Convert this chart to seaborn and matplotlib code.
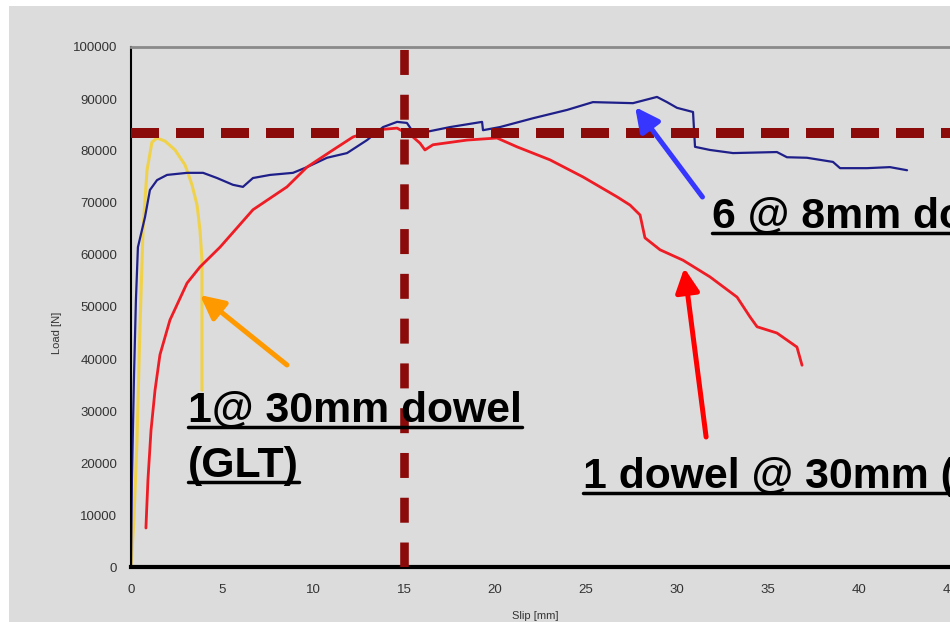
#curvas carga x deslizamento de ligacoes com cavilhas

import numpy as np
import matplotlib
matplotlib.use('Agg')
import matplotlib.pyplot as plt
import seaborn as sns
from matplotlib.patches import Rectangle
from matplotlib.lines import Line2D

# dados (slip em mm, load em N)
slip_glt = [0, 0.16, 0.33, 0.49, 0.66, 0.88, 1.15, 1.43, 1.87, 2.42, 2.97, 3.35, 3.63, 3.79, 3.90, 3.90, 3.90]
load_glt = [0, 9000, 24400, 45600, 64800, 76300, 81700, 82500, 81900, 80200, 77300, 73500, 69600, 64800,
            59000, 51300, 34000]

slip_6x8 = [0, 0.05, 0.16, 0.27, 0.38, 0.77, 1.04, 1.43, 1.98, 3.08, 3.96, 4.73, 5.60, 6.15, 6.70, 7.64,
            8.90, 9.67, 10.77, 11.87, 12.97, 13.85, 14.62, 15.16, 15.49, 16.26, 17.53, 19.29, 19.34, 20.27,
            22.09, 23.96, 25.38, 27.58, 28.90, 29.45, 30.0, 30.88, 30.99, 31.81, 33.08, 35.49, 36.04,
            37.14, 38.57, 38.96, 40.44, 41.70, 42.64]
load_6x8 = [0, 16700, 36000, 51300, 61500, 67300, 72500, 74400, 75400, 75800, 75800, 74800, 73500, 73100,
            74800, 75400, 75800, 76900, 78700, 79600, 82100, 84600, 85600, 85400, 83700, 83700, 84600,
            85600, 84000, 84600, 86300, 87900, 89400, 89200, 90400, 89400, 88300, 87500, 80800, 80200,
            79600, 79800, 78800, 78700, 77900, 76700, 76700, 76900, 76300]

slip_1x30 = [0.82, 0.93, 1.10, 1.32, 1.59, 2.14, 3.08, 3.79, 4.89, 6.70, 8.57, 9.67, 11.10, 12.20, 13.30,
             14.62, 15.49, 15.88, 16.15, 16.59, 18.46, 20.11, 21.21, 23.02, 24.84, 26.70, 27.42, 27.97,
             28.24, 29.07, 30.33, 31.81, 33.30, 34.01, 34.40, 35.49, 36.59, 36.87]
load_1x30 = [7500, 16700, 26300, 34000, 40800, 47500, 54600, 57700, 61500, 68700, 73100, 76900, 80200,
             82700, 84000, 84400, 82700, 81500, 80200, 81200, 82100, 82500, 80800, 78300, 75000, 71200,
             69600, 67700, 63300, 61000, 59000, 55800, 51900, 48100, 46200, 45000, 42300, 38800]

carga_ref = 83500   # linha horizontal tracejada
slip_ref = 15       # linha vertical tracejada

y_ticks = list(range(0, 100001, 10000))
x_ticks = list(range(0, 46, 5))

sns.set_theme(style="white")
plt.rcParams['font.family'] = ['Liberation Sans', 'DejaVu Sans']

cinza = '#dcdcdc'
fig = plt.figure(figsize=(9.5, 6.22), dpi=100)
fig.patch.set_facecolor('white')
fig.add_artist(Rectangle((9 / 950, 0), 1, 616 / 622, transform=fig.transFigure,
                         facecolor=cinza, edgecolor='none', zorder=0))

ax = fig.add_axes([131 / 950, 55 / 622, 910 / 950, 520 / 622])
ax.set_facecolor(cinza)

sns.lineplot(x=slip_glt, y=load_glt, sort=False, estimator=None, color='#f0d24a', lw=2.2, ax=ax)
sns.lineplot(x=slip_6x8, y=load_6x8, sort=False, estimator=None, color='#1f1f8a', lw=1.6, ax=ax)
sns.lineplot(x=slip_1x30, y=load_1x30, sort=False, estimator=None, color='#ee1c24', lw=2.0, ax=ax)

# linhas de referencia tracejadas
ax.axhline(carga_ref, color='#8b0a0a', lw=7.2, dashes=(2.8, 1.7), zorder=5)
ax.axvline(slip_ref, color='#8b0a0a', lw=6.2, dashes=(2.9, 2.3), zorder=5)

ax.set_xlim(0, 50)
ax.set_ylim(0, 100000)
ax.set_xticks(x_ticks)
ax.set_yticks(y_ticks)
ax.set_xticklabels([str(v) for v in x_ticks], fontsize=9.5, color='#333333')
ax.set_yticklabels([str(v) for v in y_ticks], fontsize=9.5, color='#333333')
ax.tick_params(direction='out', length=4, width=1.5, color='black', pad=6)
ax.tick_params(axis='x', pad=8)

for lado in ['left', 'bottom']:
    ax.spines[lado].set_color('black')
ax.spines['left'].set_linewidth(1.5)
ax.spines['bottom'].set_linewidth(3)
ax.spines['top'].set_color('#8a8a8a')
ax.spines['top'].set_linewidth(2)
ax.spines['right'].set_visible(False)

ax.set_ylabel('Load [N]', fontsize=8, color='#333333')
ax.set_xlabel('Slip [mm]', fontsize=8, color='#333333')
ax.yaxis.set_label_coords(-0.076, 0.45)
ax.xaxis.set_label_coords(0.444, -0.085)

# setas
def seta(cabeca, cauda, cor):
    ax.annotate('', xy=cabeca, xytext=cauda, zorder=7,
                arrowprops=dict(arrowstyle='-|>,head_length=0.8,head_width=0.4', lw=3.6, color=cor,
                                mutation_scale=18, shrinkA=0, shrinkB=0))

seta((3.79, 52300), (8.57, 38850), '#ff9900')
seta((27.7, 88460), (31.4, 71150), '#3636ff')
seta((30.4, 57500), (31.6, 25000), '#ff0000')

# textos sublinhados
estilo = dict(fontsize=30.8, fontweight='bold', color='black', ha='left', va='baseline', zorder=8)
textos = [
    ax.text(3.13, 27900, '1@ 30mm dowel', **estilo),
    ax.text(3.13, 17300, '(GLT)', **estilo),
    ax.text(24.84, 15200, '1 dowel @ 30mm (LVL)', **estilo),
    ax.text(31.92, 65200, '6 @ 8mm dowels', **estilo),
]

fig.canvas.draw()
renderer = fig.canvas.get_renderer()
for t in textos:
    bb = t.get_window_extent(renderer)
    yb = ax.transData.transform(t.get_position())[1]
    fig.add_artist(Line2D([bb.x0, bb.x1], [yb - 5, yb - 5], transform=None, color='black', lw=2.5, zorder=9))

fig.savefig('out.png', dpi=100)
